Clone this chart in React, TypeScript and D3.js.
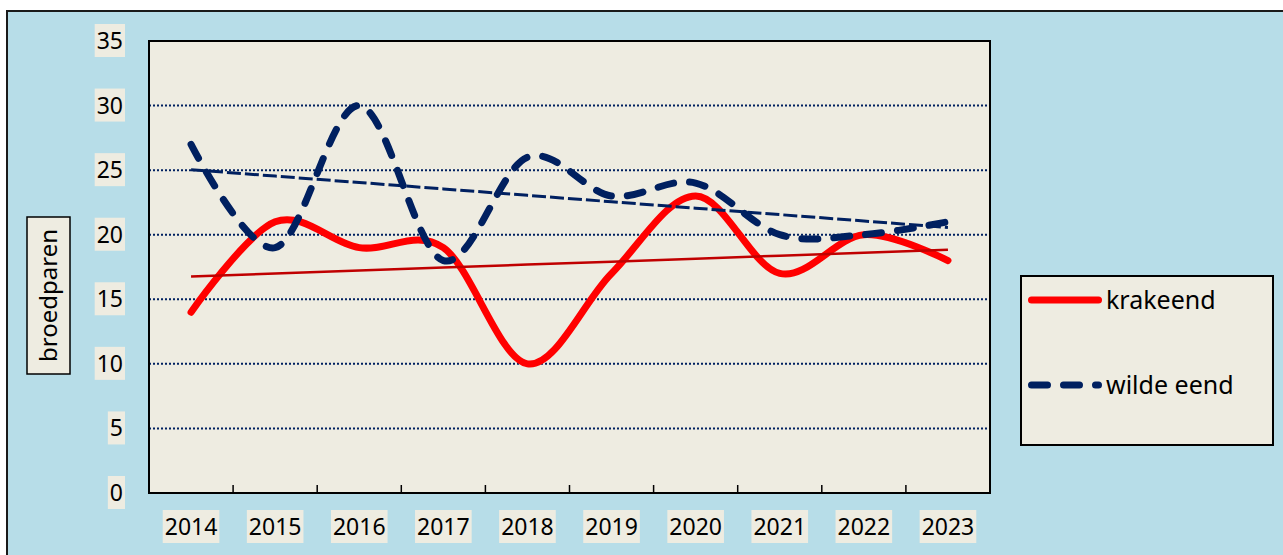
import React, { useEffect, useRef } from "react";
import * as d3 from "d3";

const years = ["2014", "2015", "2016", "2017", "2018", "2019", "2020", "2021", "2022", "2023"];
const krakeend = [14, 21, 19, 19, 10, 17, 23, 17, 20, 18];
const wildeEend = [27, 19, 30, 18, 26, 23, 24, 20, 20, 21];
const yTicks = [0, 5, 10, 15, 20, 25, 30, 35];

const W = 1283;
const H = 555;
const FONT = "'Noto Sans', sans-serif";

// least squares fit, like Excel's linear trendline
function trend(vals: number[]) {
  const n = vals.length;
  const mx = (n - 1) / 2;
  const my = d3.mean(vals) as number;
  let sxy = 0;
  let sxx = 0;
  vals.forEach((v, i) => {
    sxy += (i - mx) * (v - my);
    sxx += (i - mx) * (i - mx);
  });
  const slope = sxy / sxx;
  return vals.map((_, i) => my + slope * (i - mx));
}

const App = () => {
  const ref = useRef<SVGSVGElement>(null);

  useEffect(() => {
    const svg = d3.select(ref.current);
    svg.selectAll("*").remove();

    const left = 149;
    const right = 990;
    const top = 41;
    const bottom = 493;

    const x = d3.scaleBand().domain(years).range([left, right]).padding(0);
    const y = d3.scaleLinear().domain([0, 35]).range([bottom, top]);
    const cx = (d: string) => (x(d) as number) + x.bandwidth() / 2;

    // chart background
    svg
      .append("rect")
      .attr("x", 7)
      .attr("y", 11)
      .attr("width", W + 20)
      .attr("height", H + 20)
      .attr("fill", "#B7DDE8")
      .attr("stroke", "#1a1a1a")
      .attr("stroke-width", 2);

    // plot area
    svg
      .append("rect")
      .attr("x", left)
      .attr("y", top)
      .attr("width", right - left)
      .attr("height", bottom - top)
      .attr("fill", "#EEECE1");

    // gridlines
    svg
      .append("g")
      .selectAll("line")
      .data(yTicks.filter((t) => t > 0 && t < 35))
      .enter()
      .append("line")
      .attr("x1", left)
      .attr("x2", right)
      .attr("y1", (d) => y(d))
      .attr("y2", (d) => y(d))
      .attr("stroke", "#002060")
      .attr("stroke-width", 2)
      .attr("stroke-dasharray", "2 2");

    const line = d3
      .line<number>()
      .x((_, i) => cx(years[i]))
      .y((d) => y(d))
      .curve(d3.curveCardinal.tension(0));

    // series
    svg
      .append("path")
      .attr("d", line(krakeend))
      .attr("fill", "none")
      .attr("stroke", "#FF0000")
      .attr("stroke-width", 7)
      .attr("stroke-linecap", "round");

    svg
      .append("path")
      .attr("d", line(wildeEend))
      .attr("fill", "none")
      .attr("stroke", "#002060")
      .attr("stroke-width", 7)
      .attr("stroke-linecap", "round")
      .attr("stroke-dasharray", "16 16");

    // trendlines
    const straight = d3
      .line<number>()
      .x((_, i) => cx(years[i]))
      .y((d) => y(d));

    svg
      .append("path")
      .attr("d", straight(trend(krakeend)))
      .attr("fill", "none")
      .attr("stroke", "#C00000")
      .attr("stroke-width", 2.5);

    svg
      .append("path")
      .attr("d", straight(trend(wildeEend)))
      .attr("fill", "none")
      .attr("stroke", "#002060")
      .attr("stroke-width", 3)
      .attr("stroke-dasharray", "14 4");

    // plot border
    svg
      .append("rect")
      .attr("x", left)
      .attr("y", top)
      .attr("width", right - left)
      .attr("height", bottom - top)
      .attr("fill", "none")
      .attr("stroke", "#000")
      .attr("stroke-width", 2);

    // x ticks (between categories, pointing up)
    svg
      .append("g")
      .selectAll("line")
      .data(years.slice(1))
      .enter()
      .append("line")
      .attr("x1", (d) => x(d) as number)
      .attr("x2", (d) => x(d) as number)
      .attr("y1", bottom)
      .attr("y2", bottom - 8)
      .attr("stroke", "#000")
      .attr("stroke-width", 1.5);

    // tick label with beige box behind it
    const boxedLabel = (tx: number, ty: number, txt: string, anchor: string) => {
      const g = svg.append("g");
      const rect = g.append("rect").attr("fill", "#EEECE1");
      const t = g
        .append("text")
        .attr("x", tx)
        .attr("y", ty)
        .attr("text-anchor", anchor)
        .attr("font-family", FONT)
        .attr("font-size", 23)
        .attr("fill", "#000")
        .text(txt);
      const bb = (t.node() as SVGTextElement).getBBox();
      rect
        .attr("x", bb.x - 2)
        .attr("y", ty - 25)
        .attr("width", bb.width + 4)
        .attr("height", 33);
    };

    yTicks.forEach((v) => boxedLabel(123, y(v) + 8, String(v), "end"));
    years.forEach((yr) => boxedLabel(cx(yr), 535, yr, "middle"));

    // y axis title
    svg
      .append("rect")
      .attr("x", 27)
      .attr("y", 217)
      .attr("width", 43)
      .attr("height", 157)
      .attr("fill", "#EEECE1")
      .attr("stroke", "#000")
      .attr("stroke-width", 1.5);
    svg
      .append("text")
      .attr("transform", "translate(57,295.5) rotate(-90)")
      .attr("text-anchor", "middle")
      .attr("font-family", FONT)
      .attr("font-size", 24)
      .attr("fill", "#000")
      .text("broedparen");

    // legend
    svg
      .append("rect")
      .attr("x", 1021)
      .attr("y", 276)
      .attr("width", 252)
      .attr("height", 169)
      .attr("fill", "#EEECE1")
      .attr("stroke", "#000")
      .attr("stroke-width", 2);

    const legend = [
      { name: "krakeend", color: "#FF0000", dash: null, ly: 300 },
      { name: "wilde eend", color: "#002060", dash: "16 16", ly: 385 },
    ];
    legend.forEach((l) => {
      svg
        .append("line")
        .attr("x1", 1031.5)
        .attr("x2", 1098.5)
        .attr("y1", l.ly)
        .attr("y2", l.ly)
        .attr("stroke", l.color)
        .attr("stroke-width", 7)
        .attr("stroke-linecap", "round")
        .attr("stroke-dasharray", l.dash);
      svg
        .append("text")
        .attr("x", 1106)
        .attr("y", l.ly + 9)
        .attr("font-family", FONT)
        .attr("font-size", 25)
        .attr("fill", "#000")
        .text(l.name);
    });
  }, []);

  return (
    <svg
      ref={ref}
      width={W}
      height={H}
      style={{ position: "absolute", left: 0, top: 0, background: "#fff" }}
    ></svg>
  );
};

export default App;
